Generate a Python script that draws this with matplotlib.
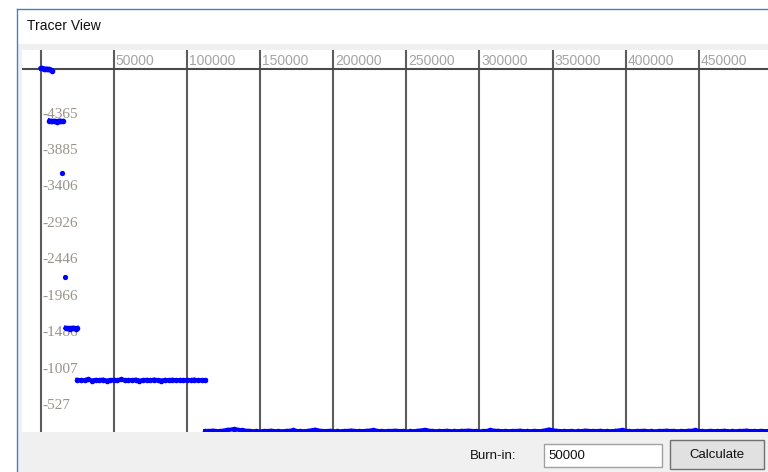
import numpy as np
import matplotlib.pyplot as plt
from matplotlib.patches import Rectangle
from matplotlib.lines import Line2D

# trace samples (iteration, log value)
start_iters = [0, 1000, 2000, 3000, 4000, 5000, 6000, 7000, 8000]
start_vals = [-4948, -4952, -4945, -4940, -4946, -4938, -4935, -4930, -4915]

step1_iters = [6000, 7000, 8000, 9000, 10000, 11000, 12000, 13000, 14000, 15000]
step1_vals = [-4262, -4255, -4250, -4258, -4252, -4248, -4256, -4260, -4250, -4254]

spike_iters = [14600, 16600]
spike_vals = [-3567, -2205]

step2_iters = [17000, 18000, 19000, 20000, 21000, 22000, 23000, 24000, 25000]
step2_vals = [-1530, -1522, -1528, -1520, -1526, -1532, -1524, -1520, -1527]

band1_iters = np.arange(25000, 115000, 2500)
band1_vals = [-845, -838, -842, -850, -836, -844, -840, -848, -835, -841,
              -846, -839, -852, -837, -843, -840, -847, -834, -842, -845,
              -838, -849, -841, -836, -844, -840, -846, -839, -843, -837,
              -845, -841, -848, -838, -842, -840]

band2_iters = np.arange(112500, 500000, 5000)
band2_vals = [-170, -175, -168, -185, -195, -180, -172, -166, -169, -174,
              -166, -170, -178, -167, -171, -188, -169, -173, -166, -170,
              -176, -168, -172, -182, -167, -170, -174, -169, -166, -172,
              -185, -170, -168, -173, -167, -171, -175, -169, -166, -180,
              -172, -168, -170, -174, -167, -171, -169, -190, -173, -168,
              -170, -166, -175, -169, -172, -167, -171, -183, -168, -170,
              -173, -166, -169, -174, -170, -168, -172, -178, -167, -171,
              -169, -173, -166, -170, -175, -168, -171, -169]

x_ticks = [0, 50000, 100000, 150000, 200000, 250000, 300000, 350000, 400000, 450000]
y_ticks = [-4365, -3885, -3406, -2926, -2446, -1966, -1486, -1007, -527]
axis_level = -4941

W, H = 768, 472
fig = plt.figure(figsize=(7.68, 4.72), dpi=100)


def fx(px):
    return px / W


def fy(py):
    return 1 - py / H


# window chrome
fig.add_artist(Rectangle((fx(18), fy(50)), 750 / W, 6 / H, color='#f0f0f0', lw=0))
fig.add_artist(Rectangle((fx(18), fy(432)), 4 / W, 382 / H, color='#f0f0f0', lw=0))
fig.add_artist(Rectangle((fx(18), 0), 750 / W, 40 / H, color='#f0f0f0', lw=0))
fig.add_artist(Line2D([fx(17), fx(17)], [fy(9), 0], color='#3c82d2', lw=1))
fig.add_artist(Line2D([fx(17), 1], [fy(9), fy(9)], color='#3c82d2', lw=1))
fig.text(fx(27), fy(26), 'Tracer View', va='center', ha='left',
         fontsize=10, family='Liberation Sans', color='#111111')

ax = fig.add_axes([fx(22), fy(432), (768 - 22) / W, (432 - 50) / H])
ax.set_xlim(-12800, 497300)
ax.set_ylim(-158, -5191)
ax.set_xticks([])
ax.set_yticks([])
for s in ax.spines.values():
    s.set_visible(False)

for t in x_ticks:
    ax.axvline(t, color='#5c5c5c', lw=1.5, zorder=1)
ax.axhline(axis_level, color='#4a4a4a', lw=1.5, zorder=1)

for t in x_ticks[1:]:
    ax.text(t + 1300, 0.972, str(t), transform=ax.get_xaxis_transform(),
            va='center', ha='left', fontsize=10, family='Liberation Sans',
            color='#a4a4a4', zorder=2)
for v in y_ticks:
    ax.text(1100, v + 20, str(v), va='center', ha='left', fontsize=11,
            family='Liberation Serif', color='#9a948a', zorder=2)

blue = '#0000ff'
for xs, ys in [(start_iters, start_vals), (step1_iters, step1_vals),
               (step2_iters, step2_vals), (band1_iters, band1_vals),
               (band2_iters, band2_vals)]:
    ax.plot(xs, ys, color=blue, marker='o', ms=4, mew=0, lw=3, zorder=3)
ax.plot(spike_iters, spike_vals, 'o', color=blue, ms=3.8, mew=0, zorder=3)

# burn-in controls
fig.text(fx(470), fy(456), 'Burn-in:', va='center', ha='left',
         fontsize=9.5, family='Liberation Sans', color='#111111')
fig.add_artist(Rectangle((fx(544), fy(467)), 118 / W, 23 / H,
                         facecolor='white', edgecolor='#a0a0a0', lw=1))
fig.text(fx(548), fy(456), '50000', va='center', ha='left',
         fontsize=9.5, family='Liberation Sans', color='#111111')
fig.add_artist(Rectangle((fx(670), fy(469)), 94 / W, 29 / H,
                         facecolor='#e1e1e1', edgecolor='#707070', lw=1))
fig.text(fx(717), fy(455), 'Calculate', va='center', ha='center',
         fontsize=9.5, family='Liberation Sans', color='#111111')

fig.savefig('out.png', dpi=100)
